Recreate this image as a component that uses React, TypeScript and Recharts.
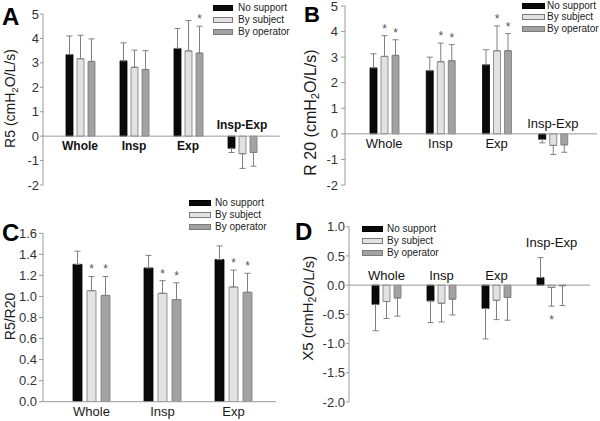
import React from "react";
import {
  Bar,
  BarChart,
  ErrorBar,
  LabelList,
  Legend,
  ReferenceDot,
  ReferenceLine,
  XAxis,
  YAxis,
} from "recharts";

const FONT = '"Liberation Sans", Arial, Helvetica, sans-serif';
const AXIS = "#9a9a9a";

const groupNames = ["No support", "By subject", "By operator"];
const seriesKeys = ["ns", "bs", "bo"];
const barFills = ["#0a0a0a", "#e2e2e2", "#a2a2a2"];

// A: R5
const r5Categories = ["Whole", "Insp", "Exp", "Insp-Exp"];
const r5NoSupport = [3.34, 3.08, 3.59, -0.5];
const r5NoSupportSd = [0.76, 0.74, 0.82, 0.17];
const r5BySubject = [3.17, 2.82, 3.49, -0.72];
const r5BySubjectSd = [0.96, 0.7, 1.24, 0.6];
const r5ByOperator = [3.06, 2.73, 3.4, -0.67];
const r5ByOperatorSd = [0.92, 0.77, 1.1, 0.56];
const r5Stars = [["Exp", "By operator"]];
const r5Ticks = [-2, -1, 0, 1, 2, 3, 4, 5];

// B: R20
const r20Categories = ["Whole", "Insp", "Exp", "Insp-Exp"];
const r20NoSupport = [2.58, 2.47, 2.7, -0.22];
const r20NoSupportSd = [0.55, 0.53, 0.59, 0.13];
const r20BySubject = [3.03, 2.82, 3.25, -0.45];
const r20BySubjectSd = [0.81, 0.73, 0.97, 0.36];
const r20ByOperator = [3.07, 2.86, 3.25, -0.43];
const r20ByOperatorSd = [0.61, 0.63, 0.67, 0.29];
const r20Stars = [
  ["Whole", "By subject"],
  ["Whole", "By operator"],
  ["Insp", "By subject"],
  ["Insp", "By operator"],
  ["Exp", "By subject"],
  ["Exp", "By operator"],
];
const r20Ticks = [-2, -1, 0, 1, 2, 3, 4, 5];

// C: R5/R20
const ratioCategories = ["Whole", "Insp", "Exp"];
const ratioNoSupport = [1.305, 1.27, 1.35];
const ratioNoSupportSd = [0.125, 0.12, 0.13];
const ratioBySubject = [1.055, 1.03, 1.09];
const ratioBySubjectSd = [0.135, 0.12, 0.16];
const ratioByOperator = [1.01, 0.97, 1.04];
const ratioByOperatorSd = [0.18, 0.16, 0.18];
const ratioStars = [
  ["Whole", "By subject"],
  ["Whole", "By operator"],
  ["Insp", "By subject"],
  ["Insp", "By operator"],
  ["Exp", "By subject"],
  ["Exp", "By operator"],
];
const ratioTicks = [0, 0.2, 0.4, 0.6, 0.8, 1.0, 1.2, 1.4, 1.6];

// D: X5
const x5Categories = ["Whole", "Insp", "Exp", "Insp-Exp"];
const x5NoSupport = [-0.33, -0.27, -0.4, 0.13];
const x5NoSupportSd = [0.45, 0.37, 0.52, 0.34];
const x5BySubject = [-0.28, -0.31, -0.26, -0.04];
const x5BySubjectSd = [0.29, 0.32, 0.33, 0.32];
const x5ByOperator = [-0.22, -0.24, -0.21, -0.01];
const x5ByOperatorSd = [0.31, 0.27, 0.39, 0.34];
const x5Stars = [["Insp-Exp", "By subject"]];
const x5Ticks = [-2, -1.5, -1, -0.5, 0, 0.5, 1];

function buildRows(cats: string[], means: number[][], sds: number[][]) {
  return cats.map((cat, i) => {
    const row: any = { cat };
    seriesKeys.forEach((k, s) => {
      const m = means[s][i];
      const sd = sds[s][i];
      row[k] = m;
      row[k + "Sd"] = sd;
      // one-sided error bar, pointing away from zero
      row[k + "Err"] = m >= 0 ? [0, sd] : [sd, 0];
    });
    return row;
  });
}

const r5Rows = buildRows(
  r5Categories,
  [r5NoSupport, r5BySubject, r5ByOperator],
  [r5NoSupportSd, r5BySubjectSd, r5ByOperatorSd],
);
const r20Rows = buildRows(
  r20Categories,
  [r20NoSupport, r20BySubject, r20ByOperator],
  [r20NoSupportSd, r20BySubjectSd, r20ByOperatorSd],
);
const ratioRows = buildRows(
  ratioCategories,
  [ratioNoSupport, ratioBySubject, ratioByOperator],
  [ratioNoSupportSd, ratioBySubjectSd, ratioByOperatorSd],
);
const x5Rows = buildRows(
  x5Categories,
  [x5NoSupport, x5BySubject, x5ByOperator],
  [x5NoSupportSd, x5BySubjectSd, x5ByOperatorSd],
);

const starContent =
  (rows: any[], key: string, name: string, stars: string[][]) => (props: any) => {
    const row = rows[props.index];
    if (!row || !stars.some(([c, s]) => c === row.cat && s === name)) return null;
    const vb = props.viewBox ?? props;
    const { x, y, width, height } = vb;
    const mean = row[key];
    const sd = row[key + "Sd"];
    const ppu = Math.abs(height) / Math.abs(mean);
    const cx = x + width / 2;
    const top = Math.min(y, y + height);
    const bottom = Math.max(y, y + height);
    const ty = mean >= 0 ? top - sd * ppu - 3 : bottom + sd * ppu + 18;
    return (
      <text x={cx} y={ty} textAnchor="middle" fontSize={12} fill="#555">
        *
      </text>
    );
  };

const yTitle =
  (parts: string[], size: number, dx: number, dy: number) => (props: any) => {
    const vb = props.viewBox;
    const cx = vb.x + dx;
    const cy = vb.y + vb.height / 2 + dy;
    return (
      <text
        x={cx}
        y={cy}
        transform={`rotate(-90 ${cx} ${cy})`}
        textAnchor="middle"
        dominantBaseline="central"
        fontSize={size}
        fill="#1a1a1a"
      >
        {parts[0]}
        {parts[1] && (
          <>
            <tspan fontSize={size * 0.7} dy={size * 0.3}>
              {parts[1]}
            </tspan>
            <tspan dy={-size * 0.3}>{parts[2]}</tspan>
          </>
        )}
      </text>
    );
  };

const legendContent =
  (swatch: number, gap: number, rowH: number) => (props: any) => {
    const items = [...(props.payload ?? [])].sort(
      (a: any, b: any) => groupNames.indexOf(a.value) - groupNames.indexOf(b.value),
    );
    return (
      <div style={{ fontFamily: FONT, fontSize: 10, color: "#222" }}>
        {items.map((p: any) => {
          const idx = groupNames.indexOf(p.value);
          return (
            <div
              key={p.value}
              style={{ display: "flex", alignItems: "center", height: rowH }}
            >
              <span
                style={{
                  display: "inline-block",
                  width: swatch,
                  height: 6,
                  boxSizing: "border-box",
                  background: barFills[idx],
                  border: `1px solid ${idx === 0 ? "#000" : "#7a7a7a"}`,
                }}
              />
              <span style={{ marginLeft: gap, lineHeight: 1, whiteSpace: "nowrap" }}>
                {p.value}
              </span>
            </div>
          );
        })}
      </div>
    );
  };

type PanelProps = {
  rows: any[];
  cats: string[];
  stars: string[][];
  width: number;
  height: number;
  margin: { top: number; right: number; bottom: number; left: number };
  yDomain: [number, number];
  yTicks: number[];
  yWidth: number;
  tickSize: number;
  tickMargin: number;
  decimals: number;
  title: string[];
  titleSize: number;
  titleDx: number;
  titleDy: number;
  pad: { left: number; right: number };
  barSize: number;
  barGap: number;
  legend: { left: number; top: number; swatch: number; gap: number; row: number };
  xHeight?: number;
  catAxis?: boolean;
  catSide?: ("top" | "bottom")[];
  catOffset?: number[];
  catFont?: { size: number; weight: number };
};

function Panel(p: PanelProps) {
  return (
    <BarChart
      width={p.width}
      height={p.height}
      data={p.rows}
      margin={p.margin}
      barSize={p.barSize}
      barGap={p.barGap}
    >
      <XAxis
        dataKey="cat"
        hide={!p.catAxis}
        padding={p.pad}
        axisLine={{ stroke: AXIS }}
        tickLine={false}
        tickSize={3}
        tickMargin={2}
        interval={0}
        tick={{ fontSize: 13, fill: "#1a1a1a" }}
        height={p.xHeight ?? 0}
      />
      <YAxis
        domain={p.yDomain}
        ticks={p.yTicks}
        interval={0}
        allowDataOverflow
        width={p.yWidth}
        tickSize={p.tickSize}
        tickMargin={p.tickMargin}
        axisLine={{ stroke: AXIS }}
        tickLine={{ stroke: AXIS }}
        tick={{ fontSize: 13, fill: "#333" }}
        tickFormatter={(v: number) => v.toFixed(p.decimals)}
        label={yTitle(p.title, p.titleSize, p.titleDx, p.titleDy)}
      />
      {!p.catAxis && <ReferenceLine y={0} stroke={AXIS} strokeWidth={1} />}
      {seriesKeys.map((k, si) => (
        <Bar
          key={k}
          dataKey={k}
          name={groupNames[si]}
          fill={barFills[si]}
          stroke={si === 0 ? "#000" : "#7a7a7a"}
          strokeWidth={0.8}
          isAnimationActive={false}
        >
          <ErrorBar
            dataKey={k + "Err"}
            width={3}
            stroke="#808080"
            strokeWidth={1}
            isAnimationActive={false}
          />
          <LabelList
            dataKey={k}
            content={starContent(p.rows, k, groupNames[si], p.stars)}
          />
        </Bar>
      ))}
      {!p.catAxis &&
        p.cats.map((c, i) => (
          <ReferenceDot
            key={c}
            x={c}
            y={0}
            r={0}
            fill="none"
            stroke="none"
            label={{
              value: c,
              position: p.catSide![i],
              offset: p.catOffset![i],
              fontSize: p.catFont!.size,
              fontWeight: p.catFont!.weight,
              fill: "#111",
            }}
          />
        ))}
      <Legend
        layout="vertical"
        align="center"
        verticalAlign="middle"
        wrapperStyle={{ left: p.legend.left, top: p.legend.top, width: "auto" }}
        content={legendContent(p.legend.swatch, p.legend.gap, p.legend.row)}
      />
    </BarChart>
  );
}

const letterStyle: React.CSSProperties = {
  position: "absolute",
  fontFamily: FONT,
  fontWeight: 700,
  fontSize: 24,
  lineHeight: "24px",
  color: "#000",
};

export default function App() {
  return (
    <div
      style={{
        position: "relative",
        width: 600,
        height: 421,
        background: "#fff",
        fontFamily: FONT,
        overflow: "hidden",
      }}
    >
      <style>{"body{margin:0}"}</style>

      <div style={{ position: "absolute", left: 0, top: 0 }}>
        <Panel
          rows={r5Rows}
          cats={r5Categories}
          stars={r5Stars}
          width={300}
          height={210}
          margin={{ top: 14, right: 20, bottom: 25, left: 0 }}
          yDomain={[-2, 5]}
          yTicks={r5Ticks}
          yWidth={43}
          tickSize={3}
          tickMargin={1}
          decimals={0}
          title={["R5 (cmH", "2", "O/L/s)"]}
          titleSize={14}
          titleDx={10}
          titleDy={-1}
          pad={{ left: 10, right: 11 }}
          barSize={7}
          barGap={4}
          legend={{ left: 213, top: 2, swatch: 20, gap: 5, row: 12 }}
          catSide={["bottom", "bottom", "bottom", "top"]}
          catOffset={[5.5, 5.5, 5.5, 7.5]}
          catFont={{ size: 12, weight: 700 }}
        />
      </div>

      <div style={{ position: "absolute", left: 300, top: 0 }}>
        <Panel
          rows={r20Rows}
          cats={r20Categories}
          stars={r20Stars}
          width={300}
          height={210}
          margin={{ top: 6, right: 3, bottom: 25, left: 0 }}
          yDomain={[-2, 5]}
          yTicks={r20Ticks}
          yWidth={45}
          tickSize={4}
          tickMargin={3}
          decimals={0}
          title={["R 20 (cmH", "2", "O/L/s)"]}
          titleSize={16}
          titleDx={10}
          titleDy={17}
          pad={{ left: 11, right: 16 }}
          barSize={7}
          barGap={4}
          legend={{ left: 222, top: 0, swatch: 23, gap: 2, row: 11.5 }}
          catSide={["bottom", "bottom", "bottom", "top"]}
          catOffset={[5, 5, 5, 6]}
          catFont={{ size: 13, weight: 400 }}
        />
      </div>

      <div style={{ position: "absolute", left: 0, top: 190 }}>
        <Panel
          rows={ratioRows}
          cats={ratioCategories}
          stars={ratioStars}
          width={300}
          height={231}
          margin={{ top: 43.3, right: 24, bottom: 0, left: 0 }}
          yDomain={[0, 1.6]}
          yTicks={ratioTicks}
          yWidth={43}
          tickSize={4}
          tickMargin={2}
          decimals={1}
          title={["R5/R20"]}
          titleSize={14}
          titleDx={10}
          titleDy={-1}
          pad={{ left: 13, right: 7 }}
          barSize={9}
          barGap={5}
          legend={{ left: 189, top: 7, swatch: 22, gap: 4, row: 12 }}
          xHeight={19.3}
          catAxis
        />
      </div>

      <div style={{ position: "absolute", left: 300, top: 210 }}>
        <Panel
          rows={x5Rows}
          cats={x5Categories}
          stars={x5Stars}
          width={300}
          height={211}
          margin={{ top: 16.7, right: 10, bottom: 19, left: 0 }}
          yDomain={[-2, 1]}
          yTicks={x5Ticks}
          yWidth={49}
          tickSize={3}
          tickMargin={1}
          decimals={1}
          title={["X5 (cmH", "2", "O/L/s)"]}
          titleSize={15}
          titleDx={8}
          titleDy={-6}
          pad={{ left: 10, right: 11 }}
          barSize={7}
          barGap={4}
          legend={{ left: 62, top: 13, swatch: 21, gap: 4, row: 12 }}
          catSide={["top", "top", "top", "top"]}
          catOffset={[5, 5, 5, 38]}
          catFont={{ size: 13, weight: 400 }}
        />
      </div>

      <div style={{ ...letterStyle, left: 2, top: 5 }}>A</div>
      <div style={{ ...letterStyle, left: 304, top: 3, fontSize: 22 }}>B</div>
      <div style={{ ...letterStyle, left: 2, top: 221 }}>C</div>
      <div style={{ ...letterStyle, left: 295, top: 220 }}>D</div>
    </div>
  );
}
